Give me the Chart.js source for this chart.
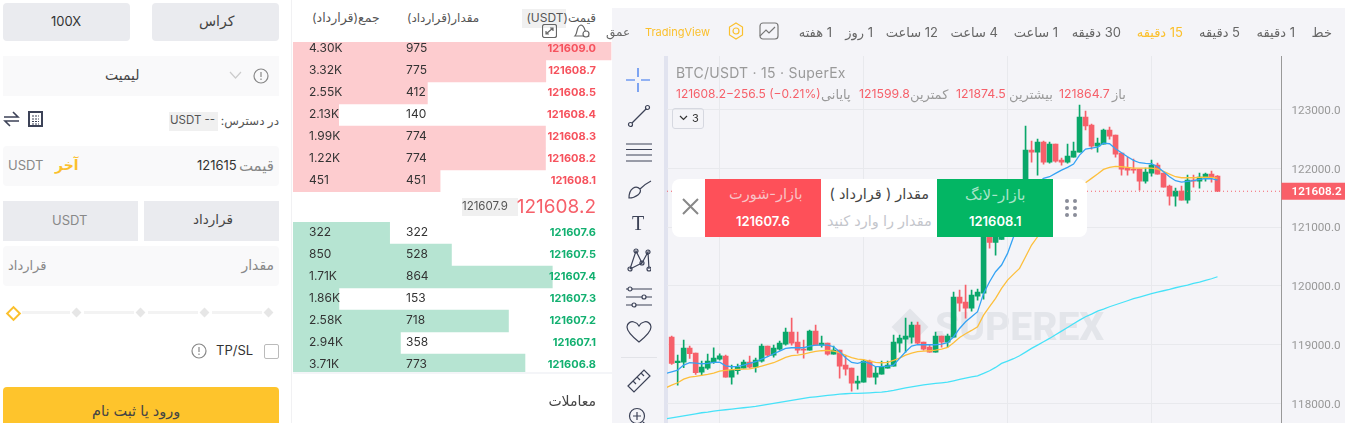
<!DOCTYPE html>
<html lang="fa">
<head>
<meta charset="utf-8">
<title>BTC/USDT</title>
<script src="https://cdn.jsdelivr.net/npm/chart.js@4/dist/chart.umd.min.js"></script>
<style>
html, body { margin: 0; padding: 0; background: #fff; }
body { width: 1345px; height: 423px; overflow: hidden; position: relative; font-family: Inter, "DejaVu Sans", sans-serif; font-size: 12px; color: #333; }
div, span, canvas, svg { position: absolute; }
.t { white-space: nowrap; transform: translateY(-50%); line-height: 1; }
.box { border-radius: 4px; }
.g1 { background: #eaebef; }
.g2 { background: #f9f9fa; }
.red { color: #f6606a; }
.gray { color: #999; }
.layer { left: 0; top: 0; width: 1345px; height: 423px; }
svg { fill: none; stroke: #3c4257; stroke-width: 1.2; }
</style>
</head>
<body>

<!-- panel left -->
<div class="box g1" style="left:3px;top:3px;width:127px;height:38px"></div>
<div class="box g1" style="left:152px;top:3px;width:127px;height:38px"></div>
<span class="t" style="left:51px;top:21px;font-size:13px">100X</span>
<span class="t" style="left:199px;top:21px;font-size:14px;color:#444">کراس</span>
<div class="g2" style="left:3px;top:56px;width:276px;height:40px"></div>
<span class="t" style="left:105px;top:75px;font-size:14px;color:#444">لیمیت</span>
<svg style="left:229px;top:71px" width="13" height="9"><path d="M1 1 L6.5 7 L12 1" stroke="#ccc"/></svg>
<svg style="left:253px;top:68px" width="16" height="16"><circle cx="8" cy="8" r="7" stroke="#888"/><path d="M8 4 V9 M8 10.5 V12" stroke="#888"/></svg>
<svg style="left:3px;top:111px" width="17" height="16"><path d="M1 6 H15 L10 1 M16 10 H2 L7 15" stroke-width="1.6"/></svg>
<svg style="left:28px;top:111px" width="15" height="16"><rect x="1" y="1" width="13" height="14" stroke-width="2"/><path d="M4 5 H11 M4 8 H11 M4 10.5 H11 M4 13 H11" stroke-dasharray="2 1"/></svg>
<span class="t" style="right:1066px;top:121px;font-size:12px;color:#555" dir="rtl">در دسترس:</span>
<div style="left:169px;top:112px;width:49px;height:19px;background:#f0f0f0"></div>
<span class="t" style="left:170px;top:121px;font-size:11.5px;color:#555">USDT --</span>
<div class="box g2" style="left:3px;top:146px;width:276px;height:40px"></div>
<span class="t" style="left:8px;top:165px;font-size:13px;color:#888">USDT</span>
<span class="t" style="left:55px;top:165px;font-size:14px;font-weight:600;color:#fbc02d">آخر</span>
<span class="t" style="left:197px;top:165px;font-size:13px">121615</span>
<span class="t" style="right:1071px;top:165px;font-size:15px;color:#888">قیمت</span>
<div class="g1" style="left:3px;top:201px;width:135px;height:40px"></div>
<div class="g1" style="left:144px;top:201px;width:135px;height:40px"></div>
<span class="t" style="left:52px;top:220px;font-size:13px;color:#888">USDT</span>
<span class="t" style="left:193px;top:220px;font-size:13.5px;color:#444">قرارداد</span>
<div class="box g2" style="left:3px;top:246px;width:276px;height:40px"></div>
<span class="t" style="left:8px;top:265px;font-size:13px;color:#888">قرارداد</span>
<span class="t" style="right:1071px;top:265px;font-size:14px;color:#888">مقدار</span>
<div style="left:22px;top:311px;width:48px;height:3px;background:#f3f3f3"></div>
<div style="left:84px;top:311px;width:50px;height:3px;background:#f3f3f3"></div>
<div style="left:148px;top:311px;width:50px;height:3px;background:#f3f3f3"></div>
<div style="left:212px;top:311px;width:50px;height:3px;background:#f3f3f3"></div>
<div style="left:73px;top:309px;width:7px;height:7px;background:#e6e6e6;transform:rotate(45deg)"></div>
<div style="left:137px;top:309px;width:7px;height:7px;background:#e6e6e6;transform:rotate(45deg)"></div>
<div style="left:201px;top:309px;width:7px;height:7px;background:#e6e6e6;transform:rotate(45deg)"></div>
<div style="left:265px;top:309px;width:7px;height:7px;background:#e6e6e6;transform:rotate(45deg)"></div>
<div style="left:8px;top:308px;width:7px;height:7px;border:2.5px solid #fbc02d;background:#fff;transform:rotate(45deg)"></div>
<svg style="left:191px;top:343px" width="16" height="16"><circle cx="8" cy="8" r="7" stroke="#888"/><path d="M8 4 V9 M8 10.5 V12" stroke="#888"/></svg>
<span class="t" style="left:216px;top:350px;font-size:13px">TP/SL</span>
<div style="left:264px;top:344px;width:13px;height:13px;border:1px solid #bbb;border-radius:2px"></div>
<div style="left:3px;top:387px;width:276px;height:40px;background:#fec42c;border-radius:4px"></div>
<span class="t" style="left:92px;top:411px;font-size:14.5px;color:#444">ورود یا ثبت نام</span>

<!-- order book -->
<div style="left:291px;top:0;width:1px;height:423px;background:#f1f1f3"></div>
<canvas id="asks" width="319" height="154" style="left:293px;top:38px"></canvas>
<canvas id="bids" width="319" height="154" style="left:293px;top:222px"></canvas>
<div style="left:293px;top:0;width:319px;height:42px;background:#fff"></div>
<div style="left:293px;top:372px;width:319px;height:51px;background:#fff"></div>
<div style="left:293px;top:372px;width:319px;height:2px;background:#f4f5f8"></div>
<span class="t" style="left:312px;top:18px;font-size:12.5px;color:#555" dir="rtl">جمع(قرارداد)</span>
<span class="t" style="left:407px;top:18px;font-size:12px;color:#555" dir="rtl">مقدار(قرارداد)</span>
<div style="left:522px;top:9px;width:44px;height:19px;background:#f0f0f0"></div>
<span class="t" style="right:749px;top:18px;font-size:12px;color:#555" dir="rtl">قیمت(USDT)</span>
<svg style="left:542px;top:24px" width="15" height="14"><rect x="0.5" y="0.5" width="14" height="13" rx="2" stroke="#666"/><path d="M4 10 L11 4 M8 4 H11 V7 M4 7 V10 H7" stroke="#666"/></svg>
<svg style="left:573px;top:24px" width="18" height="14"><path d="M2 12 C5 9 3 2 8 1 C13 2 11 9 15 12 Z" stroke="#666"/><circle cx="13" cy="10" r="3" stroke="#666" fill="#fff"/></svg>
<div id="bookRows" class="layer"></div>
<div style="left:462px;top:198px;width:56px;height:18px;background:#f0f0f0"></div>
<span class="t" style="left:462px;top:207px;font-size:11.5px;color:#555">121607.9</span>
<span class="t" style="right:749px;top:206px;font-size:19px;color:#f6606a">121608.2</span>
<span class="t" style="right:749px;top:401px;font-size:14px;color:#444">معاملات</span>

<!-- chart panel -->
<div style="left:612px;top:8px;width:733px;height:415px;background:#f4f4f8"></div>
<div style="left:664px;top:56px;width:4px;height:367px;background:#e1e3ef"></div>
<div id="timeframes" class="layer"></div>
<span class="t" style="left:606px;top:32px;font-size:12px;color:#666">عمق</span>
<span class="t" style="left:645px;top:32px;font-size:11px;color:#fbc02d">TradingView</span>
<svg style="left:727px;top:22px" width="18" height="18"><path d="M9 1 L15.5 5 V13 L9 17 L2.5 13 V5 Z" stroke="#fbc02d"/><circle cx="9" cy="9" r="3" stroke="#fbc02d"/></svg>
<svg style="left:759px;top:21px" width="20" height="20"><rect x="1" y="2" width="18" height="16" rx="3" stroke="#777"/><path d="M1 15 L7 9 L10 12 L16 6" stroke="#777"/></svg>

<!-- tools left -->
<svg style="left:626px;top:68px" width="24" height="24"><path d="M12 0 V9 M12 15 V24 M0 12 H9 M15 12 H24" stroke="#2f6fed"/></svg>
<svg style="left:627px;top:104px" width="24" height="24"><path d="M4 20 L20 4"/><circle cx="3.5" cy="20.5" r="2" fill="#f4f4f8"/><circle cx="20.5" cy="3.5" r="2" fill="#f4f4f8"/></svg>
<svg style="left:626px;top:142px" width="26" height="22"><path d="M0 2 H26 M0 7.5 H26 M0 13 H26 M0 19 H26"/></svg>
<svg style="left:628px;top:178px" width="24" height="22"><path d="M1 20 C1 10 8 7 12 11 C14 15 8 20 1 20 Z M12 11 C15 8 19 5 23 3"/></svg>
<span class="t" style="left:632px;top:223px;font-size:20px;color:#3c4257;font-family:'Liberation Serif'">T</span>
<svg style="left:627px;top:248px" width="24" height="24"><path d="M3 21 L9 3 L15 15 L21 4 L22 21 M3 21 L15 15"/><circle cx="9" cy="3" r="2"/><circle cx="3" cy="21" r="2"/><circle cx="15" cy="15" r="2"/><circle cx="21" cy="4" r="2"/><circle cx="22" cy="21" r="2"/></svg>
<svg style="left:626px;top:286px" width="26" height="22"><path d="M0 3 H26 M0 11 H26 M0 19 H26"/><circle cx="4" cy="3" r="2" fill="#f4f4f8"/><circle cx="18" cy="11" r="2" fill="#f4f4f8"/><circle cx="8" cy="19" r="2" fill="#f4f4f8"/></svg>
<svg style="left:626px;top:321px" width="26" height="22"><path d="M13 21 C3 13 1 9 1 6 C1 2 5 0 8 1 C10 1.500 12 3 13 5 C14 3 16 1.500 18 1 C21 0 25 2 25 6 C25 9 23 13 13 21 Z"/></svg>
<div style="left:621px;top:357px;width:36px;height:1px;background:#e2e3e8"></div>
<svg style="left:627px;top:369px" width="24" height="24"><path d="M1 17 L17 1 L23 7 L7 23 Z M6 12 L9 15 M10 8 L13 11 M14 4 L17 7"/></svg>
<svg style="left:628px;top:407px" width="22" height="22"><circle cx="9" cy="9" r="7.5"/><path d="M15 15 L21 21 M5 9 H13 M9 5 V13"/></svg>

<!-- watermark, under the canvas -->
<div style="left:897px;top:314px;width:26px;height:26px;background:#e3e5ea;transform:rotate(45deg)"></div>
<span class="t" style="left:935px;top:327px;font-size:39px;font-weight:800;color:#e3e5ea;font-family:Roboto">SUPEREX</span>

<canvas id="kline" width="678" height="367" style="left:667px;top:56px"></canvas>

<span class="t" style="left:676px;top:73px;font-size:14px;color:#999;letter-spacing:.25px">BTC/USDT · 15 · SuperEx</span>
<span class="t red" style="left:676px;top:94px;font-size:12px" dir="ltr">121608.2−256.5 (−0.21%)</span>
<span class="t gray" style="left:821px;top:94px;font-size:13px">پایانی</span>
<span class="t red" style="left:859px;top:94px;font-size:12.3px">121599.8</span>
<span class="t gray" style="left:910px;top:94px;font-size:13px">کمترین</span>
<span class="t red" style="left:956px;top:94px;font-size:12.3px">121874.5</span>
<span class="t gray" style="left:1009px;top:94px;font-size:13px">بیشترین</span>
<span class="t red" style="left:1059px;top:94px;font-size:12.3px">121864.7</span>
<span class="t gray" style="left:1112px;top:94px;font-size:13px">باز</span>
<div style="left:672px;top:108px;width:30px;height:19px;border:1px solid #d6d8e0;border-radius:3px"></div>
<svg style="left:679px;top:115px" width="9" height="6"><path d="M1 1 L4.500 4.500 L8 1" stroke="#333"/></svg>
<span class="t" style="left:692px;top:118px;font-size:11px">3</span>

<!-- order panel over the chart -->
<div style="left:672px;top:179px;width:415px;height:58px;background:#fff;border-radius:8px"></div>
<svg style="left:682px;top:198px" width="17" height="17"><path d="M1 1 L16 16 M16 1 L1 16" stroke="#888" stroke-width="2"/></svg>
<div style="left:705px;top:179px;width:116px;height:58px;background:#fe5059"></div>
<div style="left:937px;top:179px;width:116px;height:58px;background:#03b664"></div>
<span class="t" style="left:729px;top:194px;font-size:14.5px;color:#f8c2c6">بازار-شورت</span>
<span class="t" style="left:736px;top:221px;font-size:13px;font-weight:600;color:#fff">121607.6</span>
<span class="t" style="right:416px;top:194px;font-size:14.5px;color:#444" dir="rtl">مقدار ( قرارداد )</span>
<span class="t" style="left:827px;top:221px;font-size:14.5px;color:#c4c6cc">مقدار را وارد کنید</span>
<span class="t" style="left:965px;top:194px;font-size:15px;color:#a8e4c8">بازار-لانگ</span>
<span class="t" style="left:969px;top:221px;font-size:13px;font-weight:600;color:#fff">121608.1</span>
<svg style="left:1064px;top:198px" width="14" height="20"><g fill="#8a8d99" stroke="none"><circle cx="3" cy="3" r="2"/><circle cx="11" cy="3" r="2"/><circle cx="3" cy="10" r="2"/><circle cx="11" cy="10" r="2"/><circle cx="3" cy="17" r="2"/><circle cx="11" cy="17" r="2"/></g></svg>

<script>
var opens = [119128, 118692, 118703, 118941, 118856, 118533, 118601, 118697, 118754, 118805, 118448, 118555, 118601, 118703, 118618, 118720, 118975, 118822, 118924, 119009, 119213, 119043, 118924, 118907, 119230, 118992, 119026, 118839, 118907, 118652, 118601, 118346, 118363, 118720, 118448, 118499, 118601, 118635, 119026, 119094, 119128, 119332, 119043, 118958, 118873, 119145, 119043, 119128, 119808, 119723, 119621, 119825, 119876, 121175, 120738, 120789, 121061, 121345, 121175, 121741, 122308, 122274, 122444, 122104, 122410, 122138, 122104, 122189, 122274, 122870, 122734, 122376, 122410, 122649, 122563, 122257, 122002, 121985, 121985, 121781, 121917, 122053, 121917, 121696, 121526, 121611, 121458, 121798, 121781, 121832, 121900, 121864.7];
var closes = [118680, 118720, 118941, 118845, 118521, 118618, 118720, 118771, 118811, 118448, 118567, 118618, 118703, 118618, 118737, 118975, 118822, 118941, 119026, 119213, 119026, 118907, 118907, 119230, 118992, 119026, 118839, 118907, 118635, 118584, 118346, 118380, 118720, 118448, 118516, 118618, 118652, 119043, 119111, 119145, 119332, 119026, 118924, 118873, 119145, 119043, 119145, 119808, 119706, 119621, 119842, 119893, 121175, 120738, 121005, 121061, 121345, 121175, 121741, 122308, 122274, 122444, 122104, 122410, 122121, 122104, 122206, 122291, 122870, 122717, 122376, 122427, 122649, 122546, 122240, 121985, 121968, 121968, 121781, 121934, 122053, 121900, 121679, 121526, 121611, 121458, 121798, 121781, 121849, 121900, 121849, 121608.2];
var highs = [119145, 118822, 119077, 118975, 118856, 118720, 118839, 118947, 118845, 118822, 118652, 118669, 118737, 118805, 118771, 119009, 118975, 118992, 119060, 119281, 119451, 119213, 119077, 119247, 119332, 119145, 119026, 118975, 118907, 118822, 118601, 118465, 118737, 118737, 118618, 118720, 118720, 119162, 119162, 119451, 119383, 119383, 119043, 118992, 119213, 119145, 119179, 119893, 119927, 120012, 119927, 119944, 121203, 121231, 121061, 121118, 121401, 121458, 121798, 122717, 122461, 122495, 122461, 122444, 122410, 122172, 122410, 122444, 123074, 122972, 122751, 122512, 122666, 122700, 122563, 122257, 122189, 122155, 121985, 122002, 122138, 122087, 121917, 121713, 121662, 121696, 121883, 121883, 121917, 121917, 121951, 121874.5];
var lows = [118663, 118312, 118607, 118765, 118493, 118482, 118578, 118680, 118737, 118448, 118329, 118499, 118601, 118601, 118533, 118703, 118805, 118788, 118907, 118992, 118992, 118856, 118771, 118907, 118992, 118958, 118822, 118839, 118431, 118482, 118210, 118244, 118363, 118448, 118329, 118499, 118601, 118635, 118873, 118873, 119026, 119009, 118907, 118873, 118873, 118958, 118958, 119128, 119570, 119451, 119570, 119757, 119774, 120642, 120523, 120789, 120948, 121061, 121118, 121685, 122104, 121883, 122070, 122087, 122104, 122053, 122087, 122189, 122274, 122649, 122325, 122274, 122410, 122495, 122189, 121883, 121883, 121917, 121628, 121747, 121866, 121900, 121679, 121373, 121356, 121458, 121407, 121679, 121662, 121781, 121764, 121599.8];
// the moving averages start one candle earlier, that candle is off the left edge
var maFast = [118510, 118538, 118567, 118652, 118692, 118686, 118675, 118680, 118697, 118703, 118640, 118624, 118629, 118652, 118680, 118709, 118754, 118794, 118845, 118890, 118935, 118947, 118947, 118947, 118975, 118992, 118992, 118992, 118964, 118879, 118777, 118697, 118680, 118709, 118680, 118624, 118624, 118635, 118652, 118765, 118879, 118975, 118998, 118998, 118998, 118998, 119009, 119032, 119134, 119275, 119389, 119474, 119559, 119871, 120069, 120239, 120353, 120551, 120834, 121118, 121458, 121628, 121741, 121827, 121855, 121912, 121968, 122014, 122070, 122223, 122325, 122342, 122359, 122427, 122416, 122331, 122263, 122195, 122133, 122093, 122082, 122076, 122025, 121940, 121855, 121787, 121764, 121775, 121787, 121810, 121821, 121821, 121798];
var maMid = [118266, 118312, 118351, 118414, 118448, 118459, 118476, 118493, 118516, 118550, 118561, 118573, 118578, 118584, 118589, 118607, 118635, 118663, 118692, 118737, 118782, 118811, 118822, 118839, 118862, 118884, 118896, 118901, 118890, 118862, 118816, 118777, 118754, 118743, 118720, 118697, 118692, 118697, 118731, 118771, 118822, 118856, 118879, 118890, 118896, 118907, 118924, 118952, 119032, 119122, 119185, 119241, 119304, 119502, 119644, 119786, 119956, 120097, 120199, 120296, 120494, 120693, 120834, 121005, 121175, 121316, 121458, 121571, 121656, 121713, 121753, 121827, 121900, 121980, 122014, 122031, 122025, 122014, 122002, 122002, 122002, 122002, 121985, 121946, 121900, 121855, 121838, 121838, 121838, 121844, 121849, 121844, 121832];
var maSlow = [117739, 117756, 117773, 117790, 117807, 117824, 117841, 117853, 117870, 117881, 117892, 117904, 117915, 117926, 117938, 117949, 117966, 117983, 118000, 118017, 118034, 118051, 118068, 118085, 118102, 118113, 118125, 118136, 118147, 118159, 118164, 118170, 118170, 118176, 118181, 118187, 118193, 118204, 118221, 118244, 118266, 118283, 118300, 118317, 118329, 118340, 118351, 118363, 118385, 118408, 118431, 118453, 118470, 118510, 118555, 118612, 118680, 118720, 118760, 118811, 118873, 118935, 118992, 119049, 119105, 119168, 119230, 119292, 119355, 119417, 119474, 119519, 119570, 119604, 119644, 119678, 119712, 119746, 119780, 119808, 119837, 119865, 119893, 119916, 119939, 119967, 119990, 120012, 120041, 120063, 120092, 120120, 120154];
var lastPrice = 121608.2;
var priceTicks = [123000, 122000, 121000, 120000, 119000, 118000];
var timeTicks = [20, 44, 68, 92];

var askPrices = ['121609.0', '121608.7', '121608.5', '121608.4', '121608.3', '121608.2', '121608.1'];
var askQty = [975, 775, 412, 140, 774, 774, 451];
var askTotal = ['4.30K', '3.32K', '2.55K', '2.13K', '1.99K', '1.22K', '451'];
var bidPrices = ['121607.6', '121607.5', '121607.4', '121607.3', '121607.2', '121607.1', '121606.8'];
var bidQty = [322, 528, 864, 153, 718, 358, 773];
var bidTotal = ['322', '850', '1.71K', '1.86K', '2.58K', '2.94K', '3.71K'];

var timeNames = ['خط', '1 دقیقه', '5 دقیقه', '15 دقیقه', '30 دقیقه', '1 ساعت', '4 ساعت', '12 ساعت', '1 روز', '1 هفته'];
var timeRight = [1332, 1295, 1240, 1183, 1121, 1058, 998, 938, 873, 832];

var RED = '#f6606a';
var GREEN = '#0aa76a';

// order book rows
function addBookRows(prices, qty, total, top, color) {
	var box = document.getElementById('bookRows');
	prices.forEach((price, i) => {
		var y = top + i * 22 + 10;
		box.insertAdjacentHTML('beforeend',
			`<span class="t" style="left:309px;top:${y}px;font-size:12px">${total[i]}</span>` +
			`<span class="t" style="left:406px;top:${y}px;font-size:12px">${qty[i]}</span>` +
			`<span class="t" style="right:749px;top:${y}px;font-size:11px;font-weight:700;color:${color}">${price}</span>`);
	});
}
addBookRows(askPrices, askQty, askTotal, 38, '#f6525d');
addBookRows(bidPrices, bidQty, bidTotal, 222, '#12b070');

timeNames.forEach((name, i) => {
	var color = i == 3 ? '#fbc02d' : '#666';
	document.getElementById('timeframes').insertAdjacentHTML('beforeend',
		`<span class="t" style="right:${1345 - timeRight[i]}px;top:32px;font-size:13px;color:${color}" dir="rtl">${name}</span>`);
});

function depthChart(id, labels, values, color, maxValue) {
	new Chart(document.getElementById(id), {
		type: 'bar',
		data: {
			labels: labels,
			datasets: [{ data: values, backgroundColor: color, barPercentage: 1, categoryPercentage: 1 }]
		},
		options: {
			indexAxis: 'y',
			responsive: false,
			animation: false,
			plugins: { legend: { display: false }, tooltip: { enabled: false } },
			scales: {
				x: { display: false, min: 0, max: maxValue },
				y: { display: false }
			}
		}
	});
}
depthChart('asks', askPrices, askQty, '#fdcccf', 978);
depthChart('bids', bidPrices, bidQty, '#b6e4d2', 1063);

// candles: body and wick are both floating bars
var candleColor = opens.map((o, i) => closes[i] >= o ? GREEN : RED);
var bodies = opens.map((o, i) => ({ x: i, y: [o, closes[i]] }));
var wicks = lows.map((l, i) => ({ x: i, y: [l, highs[i]] }));
function lineData(values) {
	return values.map((v, i) => ({ x: i - 1, y: v }));
}

var xMin = -0.78;
var xMax = 101.67;

// price tag at the axis
var priceTag = {
	id: 'priceTag',
	afterDraw(chart) {
		var ctx = chart.ctx;
		var y = chart.scales.y.getPixelForValue(lastPrice);
		ctx.save();
		ctx.fillStyle = '#f95f69';
		ctx.fillRect(chart.chartArea.right, y - 8.500, 64, 17);
		ctx.fillStyle = '#fff';
		ctx.font = '600 11.7px Roboto';
		ctx.textBaseline = 'middle';
		ctx.fillText(lastPrice.toFixed(1), chart.chartArea.right + 10, y + 0.500);
		ctx.restore();
	}
};

new Chart(document.getElementById('kline'), {
	data: {
		datasets: [
			{ type: 'line', data: lineData(maFast), borderColor: '#35a3f4', borderWidth: 1.3, pointRadius: 0, order: 1 },
			{ type: 'line', data: lineData(maMid), borderColor: '#fdbf3c', borderWidth: 1.3, pointRadius: 0, order: 1 },
			{ type: 'line', data: lineData(maSlow), borderColor: '#47e2f8', borderWidth: 1.3, pointRadius: 0, order: 1 },
			{ type: 'line', data: [{ x: xMin, y: lastPrice }, { x: xMax, y: lastPrice }], borderColor: '#f6606a', borderWidth: 1, borderDash: [1, 3], pointRadius: 0, order: 0 },
			{ type: 'bar', data: bodies, backgroundColor: candleColor, barThickness: 5, grouped: false, minBarLength: 1, order: 2 },
			{ type: 'bar', data: wicks, backgroundColor: candleColor, barThickness: 1, grouped: false, order: 3 }
		]
	},
	options: {
		responsive: false,
		animation: false,
		plugins: { legend: { display: false }, tooltip: { enabled: false } },
		scales: {
			x: {
				type: 'linear',
				min: xMin,
				max: xMax,
				offset: false,
				ticks: { display: false },
				border: { display: false },
				grid: { color: '#e8e9ed', drawTicks: false },
				afterBuildTicks: (scale) => { scale.ticks = timeTicks.map(v => ({ value: v })); },
				afterFit: (scale) => { scale.height = 0; scale.paddingLeft = 0; scale.paddingRight = 0; }
			},
			y: {
				position: 'right',
				min: 117667,
				max: 123908,
				ticks: { color: '#999', font: { size: 11.7, family: 'Roboto' }, padding: 10, labelOffset: 1.5, callback: (v) => v.toFixed(1) },
				border: { color: '#999' },
				grid: { color: '#e8e9ed', drawTicks: false },
				afterBuildTicks: (scale) => { scale.ticks = priceTicks.map(v => ({ value: v })); },
				afterFit: (scale) => { scale.width = 63.5; scale.paddingTop = 0; scale.paddingBottom = 0; }
			}
		}
	},
	plugins: [priceTag]
});
</script>
</body>
</html>
